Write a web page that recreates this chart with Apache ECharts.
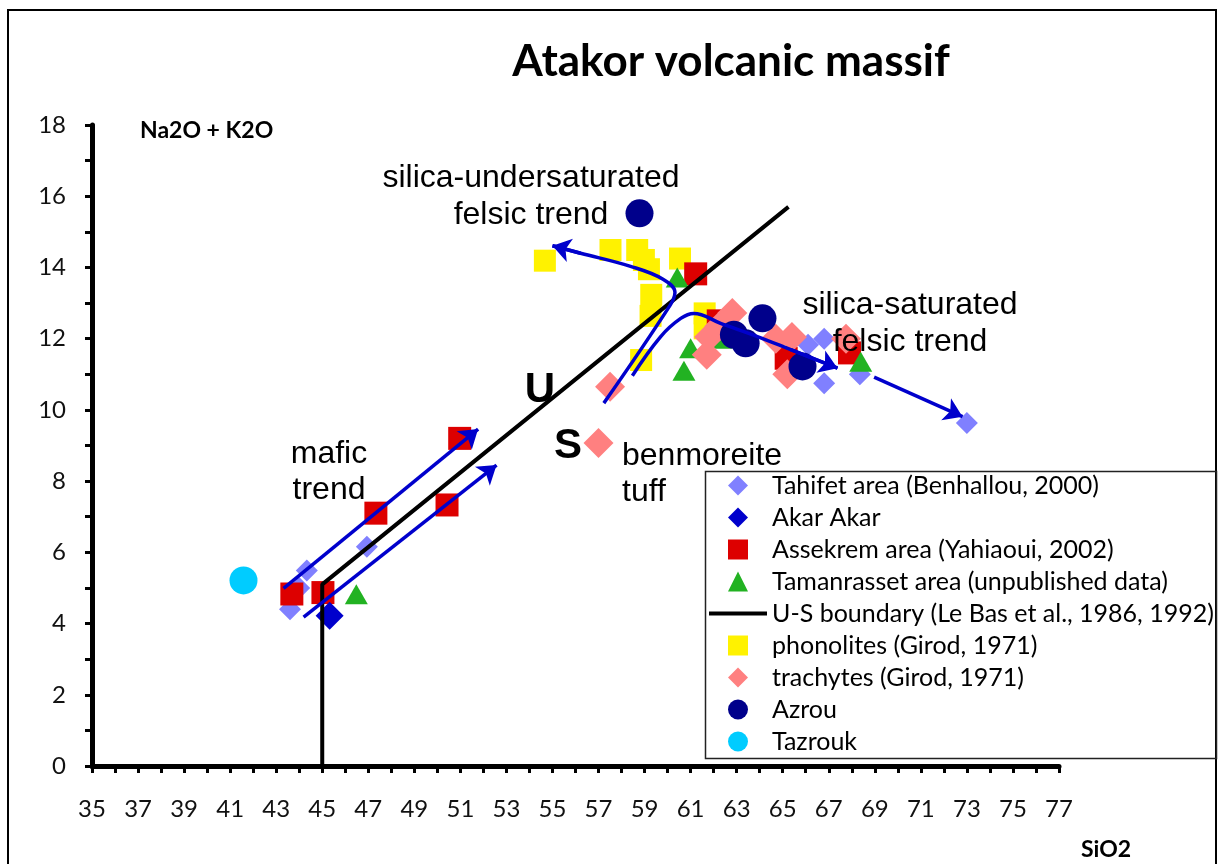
<!DOCTYPE html>
<html>
<head>
<meta charset="utf-8">
<script src="https://cdn.jsdelivr.net/npm/echarts@6/dist/echarts.min.js"></script>
<style>
  html, body { margin: 0; padding: 0; background: #fff; }
  #main { width: 1218px; height: 864px; }
</style>
</head>
<body>
<div id="main"></div>
<script>
// values (SiO2, Na2O + K2O)
const tahifet = [[43.6, 4.4], [44.0, 5.0], [44.33, 5.49], [46.94, 6.16], [66.1, 11.83], [66.8, 12.0], [66.8, 10.75], [68.35, 11.0], [73.0, 9.63]]
const akarAkar = [[45.32, 4.22]]
const assekrem = [[43.68, 4.83], [45.03, 4.87], [47.33, 7.1], [50.42, 7.33], [50.97, 9.2], [61.22, 13.82], [62.2, 12.5], [65.15, 11.45], [67.9, 11.6]]
const tamanrasset = [[46.48, 4.82], [60.42, 13.72], [62.3, 12.0], [61.0, 11.73], [60.71, 11.1], [68.39, 11.35]]
const usBoundary = [[45, 0], [45, 5.1], [65.25, 15.7]]
const phonolites = [[54.67, 14.19], [57.52, 14.49], [58.68, 14.49], [58.97, 14.21], [59.19, 13.95], [59.29, 13.23], [59.26, 12.64], [60.54, 14.25], [61.61, 12.71], [61.61, 12.29], [58.85, 11.4]]
const trachytes = [[57.5, 10.65], [57.0, 9.07], [61.8, 12.05], [61.7, 11.55], [62.25, 12.35], [62.81, 12.72], [64.7, 12.0], [65.4, 12.05], [65.2, 11.0], [67.75, 12.0]]
const azrou = [[58.78, 15.52], [62.88, 12.11], [63.39, 11.87], [64.12, 12.57], [65.86, 11.22]]
const tazrouk = [[41.58, 5.21]]

// trend arrows
const maficUpper = [[43.32, 4.99], [51.77, 9.46]]
const maficLower = [[44.19, 4.18], [52.57, 8.45]]
const underTrend = [[57.23, 10.19], [60.12, 12.95], [60.32, 13.3], [59.8, 13.67], [58.39, 14.03], [56.22, 14.4], [55.0, 14.61]]
const satTrend = [[58.47, 10.96], [59.7, 12.06], [60.57, 12.57], [61.14, 12.71], [62.3, 12.43], [63.9, 12.06], [65.35, 11.69], [67.38, 11.17]]
const satTrendEnd = [[68.97, 10.92], [72.81, 9.81]]

const names = ['Tahifet area (Benhallou, 2000)', 'Akar Akar', 'Assekrem area (Yahiaoui, 2002)', 'Tamanrasset area (unpublished data)',
  'U-S boundary (Le Bas et al., 1986, 1992)', 'phonolites (Girod, 1971)', 'trachytes (Girod, 1971)', 'Azrou', 'Tazrouk']

const xTickLabel = (v) => ((v - 35) % 2 === 0 ? String(v) : '')
const yTickLabel = (v) => (v % 2 === 0 ? String(v) : '')

const arrowBlue = '#0000CC'
const lastSeg = (pts) => pts.slice(-2)

// legend icons (paths so they keep their aspect in the wide legend slot)
const iconDiamond = 'path://M1,0L2,1L1,2L0,1Z'
const iconSquare = 'path://M0,0H2V2H0Z'
const iconTriangle = 'path://M1,0L2,2L0,2Z'
const iconCircle = 'path://M0,1A1,1 0 1,1 2,1A1,1 0 1,1 0,1Z'
const iconLine = 'path://M0,0H14V1H0Z'
const legendIcons = [iconDiamond, iconDiamond, iconSquare, iconTriangle, iconLine, iconSquare, iconDiamond, iconCircle, iconCircle]

const myChart = echarts.init(document.getElementById('main'))
const scatter = (name, data, symbol, size, color) => ({
  name: name,
  type: 'scatter',
  data: data,
  symbol: symbol,
  symbolSize: size,
  itemStyle: { color: color, opacity: 1 },
  silent: true
})
const arrowBody = (data) => ({
  type: 'line',
  data: data,
  smooth: 0.4,
  symbol: 'none',
  lineStyle: { color: arrowBlue, width: 3.5 },
  z: 5,
  silent: true
})
const centered = { align: 'center', verticalAlign: 'middle', textAlign: 'center', textVerticalAlign: 'middle' }
const annoFont = '32px "Liberation Sans"'

let option = {
  animation: false,
  backgroundColor: '#fff',
  grid: { left: 92, right: 159, top: 125, bottom: 98 },
  xAxis: {
    type: 'value',
    min: 35,
    max: 77,
    interval: 1,
    axisLine: { lineStyle: { color: '#000', width: 5 } },
    axisTick: { length: 7, lineStyle: { color: '#000', width: 3 } },
    axisLabel: { formatter: xTickLabel, margin: 31, color: '#111', fontFamily: 'Lato', fontSize: 24 },
    splitLine: { show: false }
  },
  yAxis: {
    type: 'value',
    min: 0,
    max: 18,
    interval: 1,
    axisLine: { lineStyle: { color: '#000', width: 5 } },
    axisTick: { length: 7, lineStyle: { color: '#000', width: 3 } },
    axisLabel: { formatter: yTickLabel, margin: 26, color: '#111', fontFamily: 'Lato', fontSize: 24 },
    splitLine: { show: false }
  },
  legend: {
    data: names.map((n, i) => ({ name: n, icon: legendIcons[i] })),
    orient: 'vertical',
    left: 709,
    top: 473,
    padding: 0,
    itemWidth: 58,
    itemHeight: 20,
    itemGap: 7,
    symbolKeepAspect: true,
    selectedMode: false,
    textStyle: { color: '#000', fontFamily: 'Lato', fontSize: 25 }
  },
  graphic: [
    { type: 'rect', silent: true, z: 0, shape: { x: 8, y: 10, width: 1208, height: 900 }, style: { fill: 'none', stroke: '#000', lineWidth: 2 } },
    { type: 'rect', silent: true, z: 0, shape: { x: 705.5, y: 471.5, width: 511, height: 287 }, style: { fill: 'none', stroke: '#222', lineWidth: 1.5 } },
    { type: 'text', x: 731, y: 62, z: 100, style: Object.assign({ text: 'Atakor volcanic massif', font: 'bold 44px Lato', fill: '#000' }, centered) },
    { type: 'text', x: 140, y: 131, z: 100, style: { text: 'Na2O + K2O', font: 'bold 23px Lato', fill: '#000', align: 'left', verticalAlign: 'middle', textAlign: 'left', textVerticalAlign: 'middle' } },
    { type: 'text', x: 1106, y: 850, z: 100, style: Object.assign({ text: 'SiO2', font: 'bold 23px Lato', fill: '#000' }, centered) },
    { type: 'text', x: 531, y: 197, z: 100, style: Object.assign({ text: 'silica-undersaturated\nfelsic trend', font: annoFont, lineHeight: 37, fill: '#000' }, centered) },
    { type: 'text', x: 910, y: 324, z: 100, style: Object.assign({ text: 'silica-saturated\nfelsic trend', font: annoFont, lineHeight: 37, fill: '#000' }, centered) },
    { type: 'text', x: 329, y: 472, z: 100, style: Object.assign({ text: 'mafic\ntrend', font: annoFont, lineHeight: 36, fill: '#000' }, centered) },
    { type: 'text', x: 622, y: 474, z: 100, style: { text: 'benmoreite\ntuff', font: annoFont, lineHeight: 36, fill: '#000', align: 'left', verticalAlign: 'middle', textAlign: 'left', textVerticalAlign: 'middle' } },
    { type: 'text', x: 540, y: 390, z: 100, style: Object.assign({ text: 'U', font: 'bold 42px "Liberation Sans"', fill: '#000' }, centered) },
    { type: 'text', x: 568, y: 446, z: 100, style: Object.assign({ text: 'S', font: 'bold 42px "Liberation Sans"', fill: '#000' }, centered) }
  ],
  series: [
    {
      name: names[4],
      type: 'line',
      data: usBoundary,
      symbol: 'none',
      lineStyle: { color: '#000', width: 4 },
      itemStyle: { color: '#000' },
      silent: true
    },
    scatter(names[5], phonolites, 'rect', 22, '#FFF200'),
    scatter(names[0], tahifet, 'diamond', 22, '#8080FF'),
    scatter(names[2], assekrem, 'rect', 23, '#DD0000'),
    scatter(names[1], akarAkar, 'diamond', 28, '#0000CC'),
    scatter(names[3], tamanrasset, 'triangle', [23, 20], '#22B222'),
    scatter(names[6], trachytes, 'diamond', 30, '#FF8080'),
    scatter(names[7], azrou, 'circle', 28, '#00008B'),
    scatter(names[8], tazrouk, 'circle', 28, '#00CCFF'),
    arrowBody(underTrend),
    arrowBody(satTrend),
    {
      type: 'lines',
      coordinateSystem: 'cartesian2d',
      symbol: ['none', 'arrow'],
      symbolSize: 18,
      lineStyle: { color: arrowBlue, width: 3.5, opacity: 1 },
      z: 6,
      silent: true,
      data: [maficUpper, maficLower, lastSeg(underTrend), lastSeg(satTrend), satTrendEnd].map((c) => ({ coords: c }))
    }
  ]
}
myChart.setOption(option)
</script>
</body>
</html>
